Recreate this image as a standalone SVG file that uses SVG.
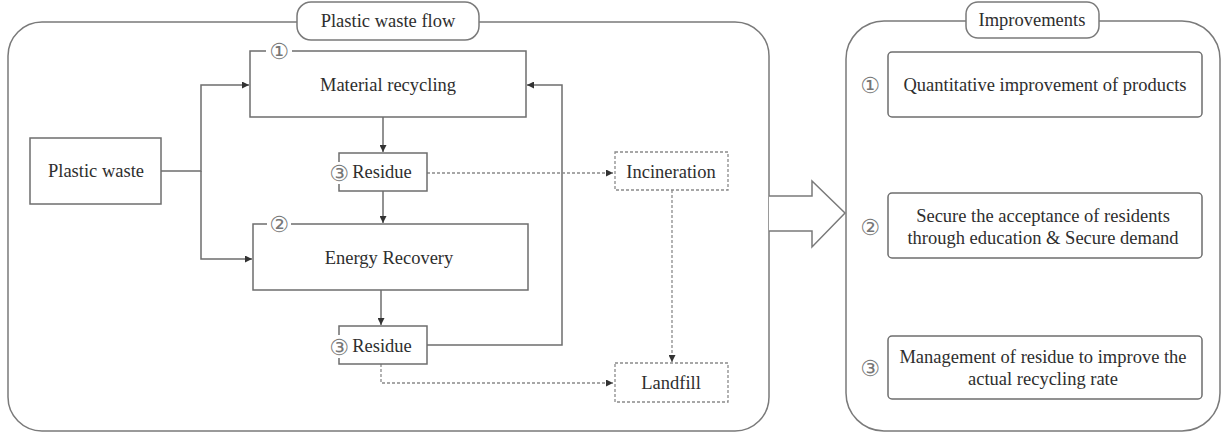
<svg xmlns="http://www.w3.org/2000/svg" width="1232" height="432" viewBox="0 0 1232 432">
<defs>
<style>
.frame{fill:#fff;stroke:#7a7a7a;stroke-width:1.5}
.box{fill:#fff;stroke:#6e6e6e;stroke-width:1.5}
.dbox{fill:#fff;stroke:#8a8a8a;stroke-width:1.3;stroke-dasharray:3 2}
.t{font-family:"Liberation Serif","Times New Roman",serif;font-size:18.5px;fill:#2e2e2e;text-anchor:middle;dominant-baseline:central}
.n{font-family:"DejaVu Sans","Noto Sans CJK KR",sans-serif;font-size:22px;fill:#777;text-anchor:middle;dominant-baseline:central}
.ln{fill:none;stroke:#6e6e6e;stroke-width:1.5}
.dl{fill:none;stroke:#8a8a8a;stroke-width:1.3;stroke-dasharray:3 2}
</style>
<marker id="ah" viewBox="0 0 8 8" refX="8" refY="4" markerWidth="7" markerHeight="7" markerUnits="userSpaceOnUse" orient="auto">
<path d="M0,0 L8,4 L0,8 z" fill="#333"/>
</marker>
</defs>
<rect width="1232" height="432" fill="#fff"/>

<g id="flow-container">
<rect class="frame" x="8" y="22" width="761" height="409" rx="34"/>
<rect class="frame" x="297" y="2" width="182" height="38" rx="14"/>
<text class="t" x="388" y="21">Plastic waste flow</text>
</g>

<g id="improvements-container">
<rect class="frame" x="846" y="21" width="374" height="410" rx="38"/>
<rect class="frame" x="966" y="2" width="133" height="36" rx="12"/>
<text class="t" x="1032" y="20">Improvements</text>
</g>

<g id="big-arrow">
<path class="frame" d="M769,196 L812,196 L812,181 L845,213 L812,247 L812,231 L769,231"/>
</g>

<g id="connectors">
<path class="ln" d="M161,171 H201 V85 H249" marker-end="url(#ah)"/>
<path class="ln" d="M201,171 V259 H252" marker-end="url(#ah)"/>
<path class="ln" d="M383,117 V152" marker-end="url(#ah)"/>
<path class="ln" d="M383,191 V223" marker-end="url(#ah)"/>
<path class="ln" d="M381,290 V325" marker-end="url(#ah)"/>
<path class="ln" d="M427,345 H562 V85 H527" marker-end="url(#ah)"/>
<path class="dl" d="M427,173 H613" marker-end="url(#ah)"/>
<path class="dl" d="M672,190 V362" marker-end="url(#ah)"/>
<path class="dl" d="M381,364 V383 H613" marker-end="url(#ah)"/>
</g>

<g id="plastic-waste">
<rect class="box" x="30" y="138" width="131" height="66"/>
<text class="t" x="96" y="171">Plastic waste</text>
</g>

<g id="material-recycling">
<path class="box" d="M266,51 H250 V117 H526 V51 H292" fill="none"/>
<text class="n" x="279" y="51">①</text>
<text class="t" x="388" y="85">Material recycling</text>
</g>

<g id="residue-1">
<path class="box" d="M339,162 V153 H427 V191 H339 V184"/>
<text class="n" x="339" y="173">③</text>
<text class="t" x="382" y="172">Residue</text>
</g>

<g id="energy-recovery">
<path class="box" d="M267,224 H253 V290 H528 V224 H291"/>
<text class="n" x="279" y="224">②</text>
<text class="t" x="389" y="258">Energy Recovery</text>
</g>

<g id="residue-2">
<path class="box" d="M339,335 V326 H427 V364 H339 V358"/>
<text class="n" x="339" y="347">③</text>
<text class="t" x="382" y="346">Residue</text>
</g>

<g id="incineration">
<rect class="dbox" x="615" y="152" width="113" height="38"/>
<text class="t" x="671" y="172">Incineration</text>
</g>

<g id="landfill">
<rect class="dbox" x="615" y="363" width="113" height="39"/>
<text class="t" x="671" y="383">Landfill</text>
</g>

<g id="improvement-1">
<text class="n" x="870" y="85">①</text>
<rect class="box" x="888" y="52" width="314" height="65" rx="4"/>
<text class="t" x="1045" y="85">Quantitative improvement of products</text>
</g>

<g id="improvement-2">
<text class="n" x="870" y="227">②</text>
<rect class="box" x="888" y="193" width="314" height="65" rx="4"/>
<text class="t" x="1043" y="216">Secure the acceptance of residents</text>
<text class="t" x="1043" y="238">through education &amp; Secure demand</text>
</g>

<g id="improvement-3">
<text class="n" x="870" y="368">③</text>
<rect class="box" x="888" y="336" width="314" height="63" rx="4"/>
<text class="t" x="1043" y="357">Management of residue to improve the</text>
<text class="t" x="1043" y="379">actual recycling rate</text>
</g>
</svg>
